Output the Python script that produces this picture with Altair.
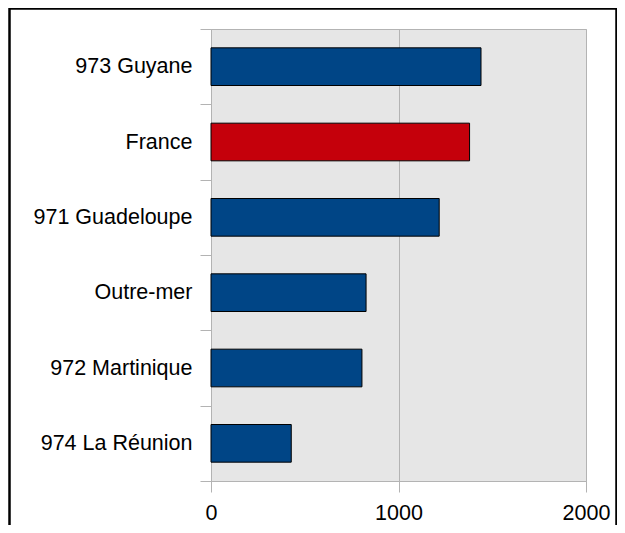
import altair as alt
import pandas as pd

regions = ["973 Guyane", "France", "971 Guadeloupe", "Outre-mer", "972 Martinique", "974 La Réunion"]
values = [1440, 1379, 1217, 827, 805, 428]
bar_colors = ["#004586", "#c5000b", "#004586", "#004586", "#004586", "#004586"]

df = pd.DataFrame({"region": regions, "value": values})

FONT = "Liberation Sans"
GRAY = "#b3b3b3"
FS = 21.5

bars = alt.Chart(df).mark_bar(
    height={"band": 0.5}, stroke="#000000", strokeWidth=1
).encode(
    y=alt.Y(
        "region:N",
        sort=regions,
        scale=alt.Scale(paddingInner=0, paddingOuter=0),
        axis=alt.Axis(
            title=None,
            tickBand="extent",
            ticks=True,
            tickSize=11,
            tickColor=GRAY,
            domainColor=GRAY,
            grid=False,
            labelFont=FONT,
            labelFontSize=FS,
            labelColor="#000000",
            labelPadding=8,
            labelLimit=300,
        ),
    ),
    x=alt.X(
        "value:Q",
        scale=alt.Scale(domain=[0, 2000], nice=False),
        axis=alt.Axis(
            title=None,
            values=[0, 1000, 2000],
            format="d",
            grid=True,
            gridColor=GRAY,
            gridWidth=1,
            tickSize=11,
            tickColor=GRAY,
            domainColor=GRAY,
            labelFont=FONT,
            labelFontSize=FS,
            labelColor="#000000",
            labelPadding=10,
            labelFlush=False,
        ),
    ),
    color=alt.Color(
        "region:N",
        scale=alt.Scale(domain=regions, range=bar_colors),
        legend=None,
    ),
)

frame = alt.Chart(pd.DataFrame({"k": [0]})).mark_rect(
    fill=None, stroke="#000000", strokeWidth=2.5, clip=False
).encode(
    x=alt.value(-201.5),
    x2=alt.value(405.5),
    y=alt.value(-20.5),
    y2=alt.value(530),
)

chart = alt.layer(bars, frame).properties(
    width=375,
    height=452,
    autosize=alt.AutoSizeParams(type="none"),
    padding={"left": 203, "top": 21, "right": 31, "bottom": 44},
    background="#ffffff",
).configure_view(
    fill="#e6e6e6",
    stroke=GRAY,
    strokeWidth=1,
)

chart.save("out.html", embed_options={"renderer": "svg", "actions": False})
